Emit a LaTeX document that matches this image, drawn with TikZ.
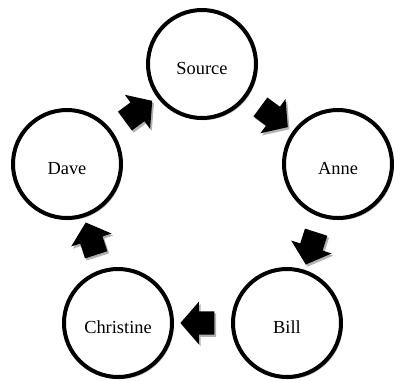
\documentclass[tikz,border=0pt]{standalone}
\usepackage{fontspec}
\setmainfont{Liberation Serif}
\usetikzlibrary{shapes.arrows,shadows}
\begin{document}
\begin{tikzpicture}[x=0.75pt,y=-0.75pt,
  person/.style={circle, draw=black, line width=3pt, fill=white,
    minimum size=81pt, inner sep=0pt,
    font=\fontsize{13.8}{16}\selectfont, text height=16pt, text depth=0pt,
    drop shadow={shadow xshift=1.3pt, shadow yshift=-1.6pt, opacity=0.3, fill=black}},
  flow/.style={single arrow, fill=black, draw=none, inner xsep=0pt, inner ysep=8.6pt,
    text height=0pt, text depth=0pt, text width=0pt,
    single arrow head extend=7.1pt, single arrow tip angle=98,
    minimum height=25.5pt, sloped, allow upside down,
    drop shadow={shadow xshift=1.3pt, shadow yshift=-1.6pt, opacity=0.3, fill=black}}]
\useasboundingbox (0,0) rectangle (394,380);
\node[person] (source) at (202,64) {Source};
\node[person] (anne) at (338,164) {Anne};
\node[person] (bill) at (287,323) {Bill};
\node[person] (christine) at (118,323) {Christine};
\node[person] (dave) at (67,164) {Dave};
\path (source) -- node[flow] {} (anne);
\path (anne) -- node[flow] {} (bill);
\path (bill) -- node[flow] {} (christine);
\path (christine) -- node[flow] {} (dave);
\path (dave) -- node[flow] {} (source);
\end{tikzpicture}
\end{document}
